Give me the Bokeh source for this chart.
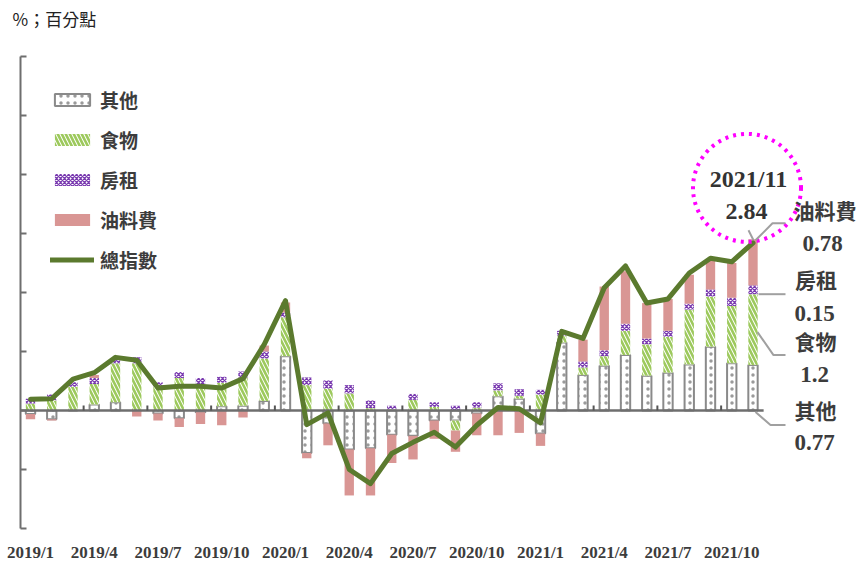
from bokeh.plotting import figure
from bokeh.models import ColumnDataSource, Range1d, FixedTicker, Legend, LegendItem
from bokeh.embed import file_html
from bokeh.resources import INLINE

months = ["2019/1", "2019/2", "2019/3", "2019/4", "2019/5", "2019/6", "2019/7", "2019/8",
          "2019/9", "2019/10", "2019/11", "2019/12", "2020/1", "2020/2", "2020/3", "2020/4",
          "2020/5", "2020/6", "2020/7", "2020/8", "2020/9", "2020/10", "2020/11", "2020/12",
          "2021/1", "2021/2", "2021/3", "2021/4", "2021/5", "2021/6", "2021/7", "2021/8",
          "2021/9", "2021/10", "2021/11"]
other = [-0.06, -0.15, 0.0, 0.10, 0.14, 0.0, -0.05, -0.13, -0.03, 0.07, 0.08, 0.16,
         0.92, -0.72, -0.22, -0.66, -0.64, -0.41, -0.43, -0.17, -0.17, -0.05, 0.24, 0.20,
         -0.39, 1.15, 0.60, 0.76, 0.94, 0.59, 0.64, 0.78, 1.08, 0.80, 0.77]
food = [0.12, 0.17, 0.40, 0.35, 0.66, 0.80, 0.40, 0.55, 0.45, 0.40, 0.48, 0.72,
        0.66, 0.43, 0.37, 0.29, 0.04, 0.02, 0.18, 0.06, -0.17, 0.05, 0.10, 0.05,
        0.27, 0.12, 0.13, 0.16, 0.41, 0.53, 0.61, 0.93, 0.85, 0.97, 1.20]
rent = [0.08, 0.10, 0.08, 0.10, 0.07, 0.10, 0.08, 0.10, 0.10, 0.10, 0.10, 0.12,
        0.08, 0.13, 0.14, 0.14, 0.13, 0.06, 0.10, 0.08, 0.08, 0.09, 0.12, 0.11,
        0.08, 0.08, 0.10, 0.10, 0.12, 0.10, 0.10, 0.10, 0.12, 0.14, 0.15]
oil = [-0.09, -0.02, 0.0, 0.05, 0.0, -0.10, -0.12, -0.15, -0.20, -0.25, -0.12, 0.10,
       0.17, -0.09, -0.37, -0.78, -0.80, -0.48, -0.40, -0.31, -0.36, -0.37, -0.42, -0.38,
       -0.21, 0.0, 0.37, 1.08, 0.89, 0.60, 0.54, 0.49, 0.51, 0.59, 0.78]
total = [0.19, 0.20, 0.53, 0.64, 0.90, 0.85, 0.38, 0.41, 0.41, 0.38, 0.54, 1.12,
         1.86, -0.24, -0.04, -1.00, -1.24, -0.73, -0.54, -0.37, -0.62, -0.25, 0.05, 0.03,
         -0.21, 1.34, 1.22, 2.08, 2.45, 1.82, 1.89, 2.33, 2.58, 2.52, 2.84]
names = ["其他", "食物", "房租", "油料費", "總指數"]
tick_months = [0, 3, 6, 9, 12, 15, 18, 21, 24, 27, 30, 33]
y_ticks = [-2, -1, 0, 1, 2, 3, 4, 5, 6]
unit_label = "%；百分點"

CJK = "Noto Sans CJK TC"
SERIF = "Liberation Serif"
TXT = "#3c3c3c"
AX = "#6e6e6e"

W_FIG, H_FIG = 861, 564
BOTTOM = 33
FRAME_H = H_FIG - BOTTOM
PXX = 21.25            # pixels per month
PXY = 473 / 8.0        # pixels per percentage point
X0 = -30 / PXX         # frame left, first month 30px in
Y0 = -2 - 2 / PXY      # frame bottom
n = len(months)
xs = list(range(n))


def px(x_page):
    return X0 + x_page / PXX


def py(y_page):
    return Y0 + (FRAME_H - y_page) / PXY


p = figure(width=W_FIG, height=H_FIG, output_backend="svg", toolbar_location=None,
           x_range=Range1d(X0, X0 + W_FIG / PXX), y_range=Range1d(Y0, Y0 + FRAME_H / PXY),
           min_border_left=0, min_border_right=0, min_border_top=0, min_border_bottom=BOTTOM)
p.outline_line_color = None
p.grid.visible = False
p.yaxis.visible = False
p.background_fill_color = "white"

# x axis (labels only)
p.xaxis.ticker = FixedTicker(ticks=tick_months)
p.xaxis.major_label_overrides = {i: months[i] for i in tick_months}
p.xaxis.axis_line_color = None
p.xaxis.major_tick_line_color = None
p.xaxis.minor_tick_line_color = None
p.xaxis.major_tick_in = 0
p.xaxis.major_tick_out = 0
p.xaxis.major_label_standoff = 12
p.xaxis.major_label_text_font = SERIF
p.xaxis.major_label_text_font_style = "bold"
p.xaxis.major_label_text_font_size = "17px"
p.xaxis.major_label_text_color = TXT

# signed stacking
pos = [0.0] * n
neg = [0.0] * n
stacks = []
for vals in [other, food, rent, oil]:
    b, t = [], []
    for i, v in enumerate(vals):
        if v >= 0:
            b.append(pos[i]); t.append(pos[i] + v); pos[i] += v
        else:
            t.append(neg[i]); b.append(neg[i] + v); neg[i] += v
    stacks.append(ColumnDataSource(dict(x=xs, bottom=b, top=t)))

W = 0.44
r_other = p.vbar(x="x", bottom="bottom", top="top", width=W, source=stacks[0],
                 fill_color="white", line_color="#8a8a8a", line_width=2,
                 hatch_pattern=".", hatch_color="#9a9a9a", hatch_scale=7, hatch_weight=1.2)
r_food = p.vbar(x="x", bottom="bottom", top="top", width=W, source=stacks[1],
                fill_color="white", line_color=None,
                hatch_pattern="\\", hatch_color="#9dc95d", hatch_scale=8, hatch_weight=2.6)
r_rent = p.vbar(x="x", bottom="bottom", top="top", width=W, source=stacks[2],
                fill_color="white", line_color=None,
                hatch_pattern="x", hatch_color="#7a3bb0", hatch_scale=4, hatch_weight=1.3)
r_oil = p.vbar(x="x", bottom="bottom", top="top", width=W, source=stacks[3],
               fill_color="#d99694", line_color=None)

# hand-drawn y axis (line with inward ticks), zero line and quarter ticks
AXIS_X = px(20)
p.segment(x0=[AXIS_X], y0=[y_ticks[0]], x1=[AXIS_X], y1=[y_ticks[-1]], line_color=AX, line_width=2)
p.segment(x0=[AXIS_X] * len(y_ticks), y0=y_ticks, x1=[AXIS_X + 6 / PXX] * len(y_ticks), y1=y_ticks,
          line_color=AX, line_width=2)
p.segment(x0=[AXIS_X], y0=[0], x1=[n - 0.5], y1=[0], line_color=AX, line_width=2.5)
qt = [i - 0.5 for i in tick_months[1:]]
p.segment(x0=qt, y0=[0] * len(qt), x1=qt, y1=[5 / PXY] * len(qt), line_color="#555555", line_width=2)

r_line = p.line(xs, total, line_color="#5b7a2e", line_width=5, line_join="round", line_cap="round")

# unit label
p.text(x=[px(12)], y=[py(18)], text=[unit_label], text_font={"value": CJK},
       text_font_size="17px", text_color="#222222", text_align="left", text_baseline="middle")

PAD = 10
legend = Legend(items=[LegendItem(label=names[0], renderers=[r_other]),
                       LegendItem(label=names[1], renderers=[r_food]),
                       LegendItem(label=names[2], renderers=[r_rent]),
                       LegendItem(label=names[3], renderers=[r_oil]),
                       LegendItem(label=names[4], renderers=[r_line])],
                location=(50 - PAD, FRAME_H - 274 - PAD), margin=0, padding=PAD, spacing=12,
                label_height=28, glyph_height=15, glyph_width=44, label_standoff=6,
                label_text_font=CJK, label_text_font_size="19px", label_text_font_style="bold",
                label_text_color=TXT, border_line_alpha=0, background_fill_alpha=0)
p.add_layout(legend)

# annotations around the last month (pixel offsets from the last bar / zero line)
last = n - 1


def ax(dx):
    return last + dx / PXX


def ay(dy):
    return dy / PXY


p.ellipse(x=[ax(-6)], y=[ay(223)], width=[108], height=[108], width_units="screen",
          height_units="screen", fill_alpha=0, line_color="#ff00ff", line_width=4, line_dash="3 5")

leaders_x = [[ax(-4.5), ax(0.5)], [ax(2.5), ax(19.5), ax(32.5)], [ax(5.5), ax(32.5)],
             [ax(4.5), ax(20.5), ax(32.5)], [ax(2.5), ax(17.5), ax(32.5)]]
leaders_y = [[ay(180.5), ay(170.5)], [ay(170.5), ay(187.5), ay(187.5)], [ay(116.5), ay(116.5)],
             [ay(78.5), ay(55.5), ay(55.5)], [ay(-1.5), ay(-14.5), ay(-14.5)]]
p.multi_line(xs=leaders_x, ys=leaders_y, line_color="#a0a0a0", line_width=2)

p.text(x=[ax(-4.5), ax(-6.5)], y=[ay(231.5), ay(199.5)],
       text=[months[last], f"{total[last]:.2f}"], text_font={"value": SERIF},
       text_font_style="bold", text_font_size="24px", text_color="#333333",
       text_align="center", text_baseline="middle")

lab_x = [ax(72), ax(63), ax(62.5), ax(62.5)]
lab_y = [ay(200.5), ay(131.5), ay(69.5), ay(0.5)]
p.text(x=lab_x, y=lab_y, text=[names[3], names[2], names[1], names[0]], text_font={"value": CJK},
       text_font_style="bold", text_font_size="21px", text_color=TXT,
       text_align="center", text_baseline="middle")
num_x = [ax(69.5), ax(61.5), ax(61.5), ax(61.5)]
num_y = [ay(167.5), ay(97.5), ay(36.5), ay(-32.5)]
p.text(x=num_x, y=num_y,
       text=[f"{oil[last]:.2f}", f"{rent[last]:.2f}", f"{food[last]:g}", f"{other[last]:.2f}"],
       text_font={"value": SERIF}, text_font_style="bold", text_font_size="23px", text_color=TXT,
       text_align="center", text_baseline="middle")

open("out.html", "w").write(file_html(p, INLINE))
